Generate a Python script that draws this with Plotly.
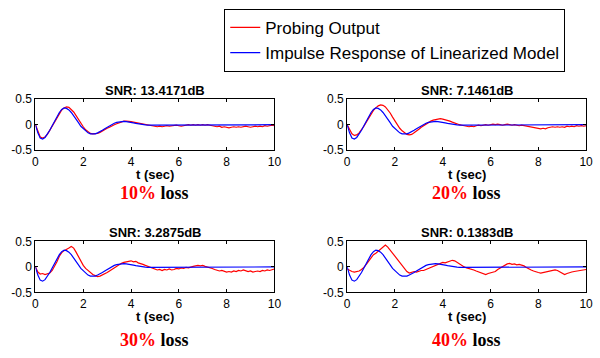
import plotly.graph_objects as go

# time grid (seconds), 0.1 s spacing
time_s = [round(i * 0.1, 1) for i in range(101)]

# impulse response of the linearized model (same in every panel)
model_response = [
    0.00, -0.16, -0.26, -0.28, -0.25, -0.19, -0.11, -0.02, 0.07, 0.16,
    0.24, 0.30, 0.33, 0.32, 0.29, 0.24, 0.18, 0.11, 0.04, -0.03,
    -0.08, -0.13, -0.16, -0.18, -0.185, -0.18, -0.16, -0.14, -0.11, -0.08,
    -0.05, -0.02, 0.01, 0.03, 0.045, 0.055, 0.06, 0.065, 0.06, 0.055,
    0.045, 0.035, 0.025, 0.015, 0.005, 0.00, -0.005, -0.01, -0.01, -0.01,
    -0.01, -0.008, -0.006, -0.004, -0.002, 0.00, 0.00, 0.00, 0.00, 0.00,
    0.00, 0.00, 0.00, 0.00, 0.00, 0.00, 0.00, 0.00, 0.00, 0.00,
    0.00, 0.00, 0.00, 0.00, 0.00, 0.00, 0.00, 0.00, 0.00, 0.00,
    0.00, 0.00, 0.00, 0.00, 0.00, 0.00, 0.00, 0.00, 0.00, 0.00,
    0.00, 0.00, 0.00, 0.00, 0.00, 0.00, 0.00, 0.00, 0.00, 0.00,
    0.00,
]

# probing outputs
probe_10 = [
    0.00, -0.14, -0.24, -0.26, -0.24, -0.19, -0.11, -0.03, 0.06, 0.15,
    0.23, 0.29, 0.33, 0.35, 0.34, 0.30, 0.25, 0.18, 0.10, 0.03,
    -0.04, -0.10, -0.14, -0.17, -0.18, -0.18, -0.17, -0.15, -0.12, -0.10,
    -0.07, -0.05, -0.02, 0.00, 0.02, 0.04, 0.05, 0.07, 0.07, 0.07,
    0.06, 0.05, 0.04, 0.03, 0.02, 0.01, 0.00, -0.01, -0.01, -0.02,
    -0.03, -0.04, -0.03, -0.04, -0.03, -0.02, -0.03, -0.02, -0.02, -0.01,
    -0.02, -0.03, -0.02, -0.01, 0.00, -0.01, 0.00, -0.01, 0.00, -0.01,
    0.00, -0.01, 0.00, -0.01, -0.02, -0.03, -0.04, -0.03, -0.05, -0.04,
    -0.05, -0.06, -0.05, -0.04, -0.05, -0.04, -0.05, -0.04, -0.03, -0.04,
    -0.05, -0.04, -0.03, -0.04, -0.03, -0.04, -0.02, -0.03, -0.02, -0.01,
    -0.02,
]

probe_20 = [
    0.00, -0.10, -0.18, -0.21, -0.20, -0.16, -0.10, -0.03, 0.05, 0.13,
    0.21, 0.28, 0.33, 0.37, 0.39, 0.38, 0.35, 0.30, 0.23, 0.15,
    0.07, 0.00, -0.07, -0.12, -0.16, -0.19, -0.20, -0.19, -0.16, -0.13,
    -0.09, -0.05, -0.02, 0.02, 0.05, 0.07, 0.09, 0.10, 0.11, 0.12,
    0.11, 0.10, 0.09, 0.07, 0.05, 0.03, 0.02, 0.00, -0.01, -0.02,
    -0.03, -0.04, -0.03, -0.04, -0.02, -0.01, -0.02, -0.01, 0.00, -0.01,
    0.00, 0.01, 0.00, 0.01, 0.00, -0.01, 0.00, 0.01, 0.00, -0.01,
    0.00, -0.01, -0.02, -0.01, -0.02, -0.03, -0.04, -0.05, -0.06, -0.07,
    -0.07, -0.08, -0.07, -0.08, -0.06, -0.05, -0.04, -0.05, -0.04, -0.05,
    -0.04, -0.05, -0.03, -0.04, -0.03, -0.04, -0.02, -0.03, -0.02, -0.03,
    -0.02,
]

probe_30 = [
    0.00, -0.10, -0.14, -0.13, -0.15, -0.14, -0.12, -0.07, 0.01, 0.10,
    0.21, 0.28, 0.32, 0.34, 0.37, 0.40, 0.37, 0.29, 0.20, 0.10,
    0.03, -0.03, -0.07, -0.11, -0.15, -0.17, -0.19, -0.18, -0.16, -0.14,
    -0.11, -0.08, -0.05, -0.01, 0.02, 0.05, 0.07, 0.09, 0.10, 0.11,
    0.12, 0.10, 0.11, 0.08, 0.07, 0.05, 0.03, 0.01, -0.01, -0.03,
    -0.05, -0.06, -0.05, -0.07, -0.05, -0.06, -0.04, -0.06, -0.05, -0.03,
    -0.04, -0.02, -0.03, -0.01, -0.02, 0.00, 0.01, 0.02, 0.03, 0.02,
    0.03, 0.01, 0.00, -0.02, -0.03, -0.05, -0.06, -0.08, -0.07, -0.09,
    -0.10, -0.09, -0.10, -0.08, -0.09, -0.07, -0.08, -0.06, -0.08, -0.09,
    -0.08, -0.10, -0.09, -0.08, -0.09, -0.07, -0.08, -0.06, -0.07, -0.05,
    -0.04,
]

probe_40 = [
    -0.04, -0.07, -0.09, -0.10, -0.09, -0.08, -0.05, -0.01, 0.05, 0.12,
    0.18, 0.24, 0.27, 0.31, 0.35, 0.40, 0.43, 0.39, 0.33, 0.27,
    0.20, 0.13, 0.07, 0.01, -0.04, -0.09, -0.12, -0.11, -0.09, -0.10,
    -0.08, -0.07, -0.07, -0.05, -0.03, -0.01, 0.02, 0.04, 0.06, 0.07,
    0.09, 0.08, 0.10, 0.12, 0.13, 0.12, 0.09, 0.06, 0.02, 0.00,
    -0.02, -0.03, -0.05, -0.06, -0.08, -0.10, -0.12, -0.14, -0.15, -0.13,
    -0.12, -0.10, -0.09, -0.05, -0.02, 0.01, 0.04, 0.06, 0.07, 0.05,
    0.06, 0.04, 0.05, 0.04, 0.02, -0.01, -0.04, -0.06, -0.08, -0.10,
    -0.11, -0.12, -0.11, -0.10, -0.09, -0.09, -0.07, -0.06, -0.07, -0.10,
    -0.13, -0.15, -0.13, -0.11, -0.10, -0.09, -0.08, -0.08, -0.07, -0.06,
    -0.05,
]

probes = [probe_10, probe_20, probe_30, probe_40]
snr_titles = ["SNR: 13.4171dB", "SNR: 7.1461dB", "SNR: 3.2875dB", "SNR: 0.1383dB"]
loss_labels = ["10%", "20%", "30%", "40%"]
x_ticks = [0, 2, 4, 6, 8, 10]
y_ticks = [-0.5, 0, 0.5]
y_tick_text = ["-0.5", "0", "0.5"]

W, H = 600, 358
# panel boxes in pixels: (left, right, top, bottom)
panels = [(33, 276, 96, 149), (350, 593, 96, 149),
          (33, 276, 244, 297), (350, 593, 244, 297)]

SANS = "Arial, Liberation Sans, sans-serif"
SERIF = "Times New Roman, Liberation Serif, serif"
RED = "#ff0000"
BLUE = "#0000ff"

fig = go.Figure()
layout = {}
annotations = []
for i, (l, r, tp, bt) in enumerate(panels):
    n = i + 1
    xa = "x" if n == 1 else f"x{n}"
    ya = "y" if n == 1 else f"y{n}"
    fig.add_trace(go.Scatter(x=time_s, y=probes[i], mode="lines",
                             line=dict(color=RED, width=1.2),
                             name="Probing Output", legendgroup="probe",
                             showlegend=(i == 0), xaxis=xa, yaxis=ya))
    fig.add_trace(go.Scatter(x=time_s, y=model_response, mode="lines",
                             line=dict(color=BLUE, width=1.2),
                             name="Impulse Response of Linearized Model",
                             legendgroup="model",
                             showlegend=(i == 0), xaxis=xa, yaxis=ya))
    xkey = "xaxis" if n == 1 else f"xaxis{n}"
    ykey = "yaxis" if n == 1 else f"yaxis{n}"
    axis_common = dict(showline=True, linecolor="#000000", linewidth=1,
                       mirror="ticks", ticks="inside", ticklen=3,
                       tickcolor="#000000", showgrid=False, zeroline=False,
                       tickfont=dict(family=SANS, size=12, color="#000000"))
    layout[xkey] = dict(domain=[l / W, r / W], range=[0, 10],
                        tickvals=x_ticks, anchor=ya, **axis_common)
    layout[ykey] = dict(domain=[1 - bt / H, 1 - tp / H], range=[-0.5, 0.5],
                        tickvals=y_ticks, ticktext=y_tick_text, anchor=xa,
                        **axis_common)
    cx = (l + r) / 2 / W
    annotations.append(dict(text="<b>" + snr_titles[i] + "</b>", x=cx,
                            y=1 - (tp - 9) / H, xref="paper", yref="paper",
                            showarrow=False, xanchor="center", yanchor="middle",
                            font=dict(family=SANS, size=13, color="#000000")))
    annotations.append(dict(text="<b>t (sec)</b>", x=cx,
                            y=1 - (bt + 25) / H, xref="paper", yref="paper",
                            showarrow=False, xanchor="center", yanchor="middle",
                            font=dict(family=SANS, size=13, color="#000000")))
    loss_y = bt + (45 if i < 2 else 50)
    annotations.append(dict(
        text=f'<b><span style="color:{RED}">{loss_labels[i]}</span> loss</b>',
        x=cx, y=1 - loss_y / H, xref="paper", yref="paper",
        showarrow=False, xanchor="center", yanchor="middle",
        font=dict(family=SERIF, size=18, color="#000000")))

fig.update_layout(
    width=W, height=H,
    margin=dict(l=0, r=0, t=0, b=0),
    paper_bgcolor="#ffffff", plot_bgcolor="#ffffff",
    showlegend=True,
    legend=dict(x=225 / W, y=1 - 2 / H, xanchor="left", yanchor="top",
                bordercolor="#000000", borderwidth=1, bgcolor="#ffffff",
                font=dict(family=SANS, size=17, color="#000000"),
                tracegroupgap=0, itemwidth=30),
    annotations=annotations,
    **layout,
)

fig.write_html("out.html")
